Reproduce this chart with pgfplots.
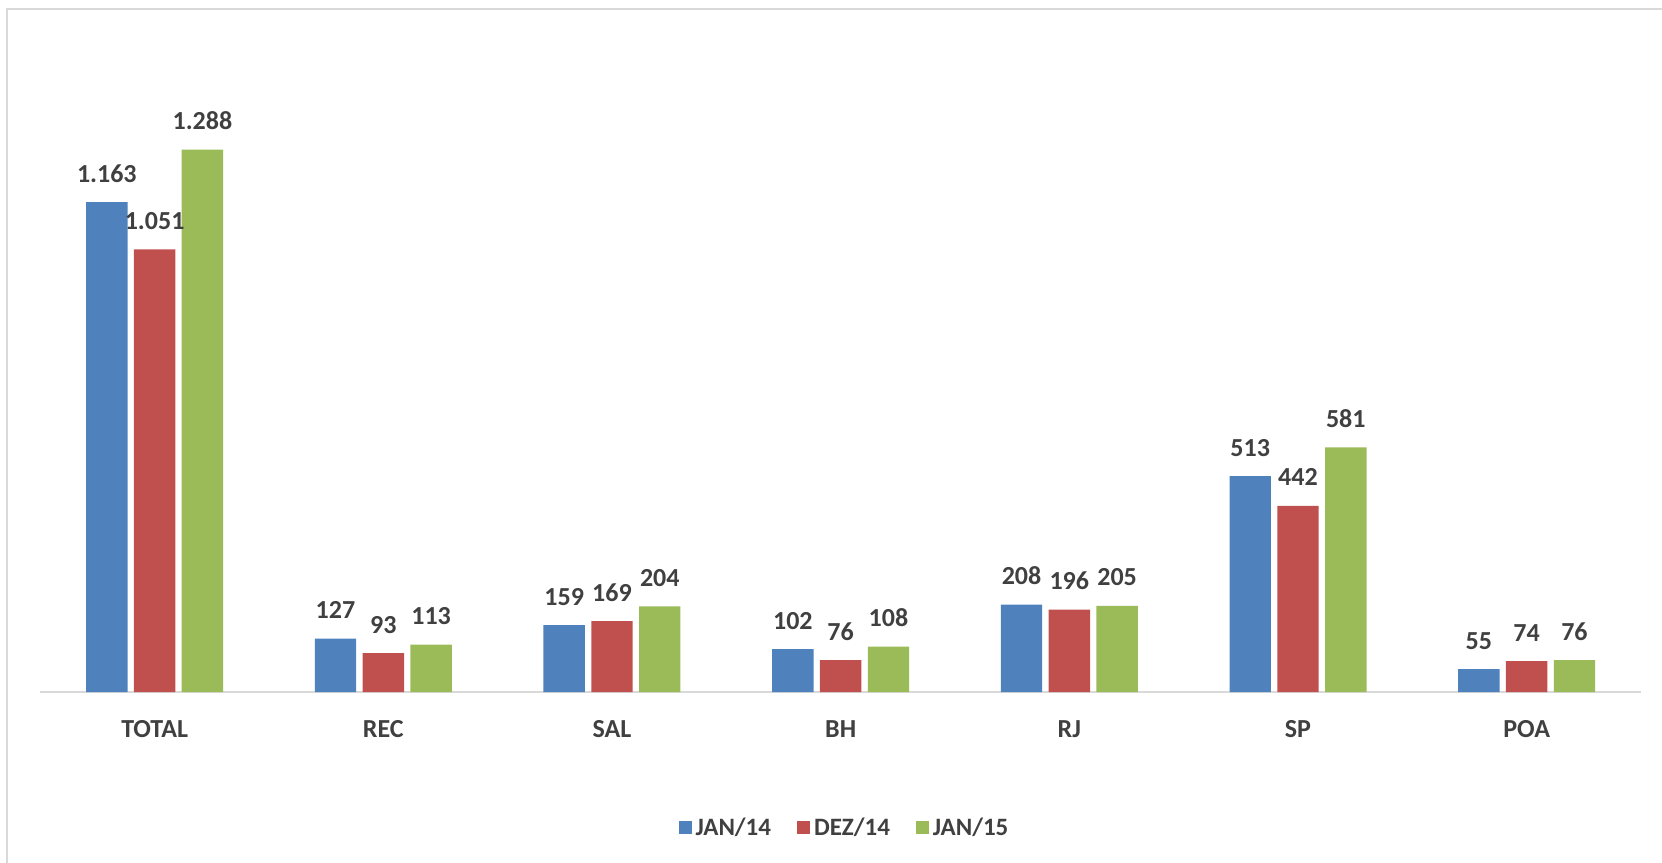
\documentclass[border=0pt]{standalone}
\usepackage{pgfplots}
\pgfplotsset{compat=1.18}
\usepackage{fontspec}
\setmainfont{Carlito}

\definecolor{cblue}{HTML}{4F81BD}
\definecolor{cred}{HTML}{C0504D}
\definecolor{cgreen}{HTML}{9BBB59}
\definecolor{txt}{HTML}{404040}
\definecolor{frame}{HTML}{D9D9D9}

\begin{document}
\begin{tikzpicture}
\draw[frame, line width=1pt] (3.65pt,-10pt) -- (3.65pt,426.85pt) -- (900pt,426.85pt);
\begin{axis}[
    at={(20.15pt,85.4pt)}, anchor=south west,
    scale only axis,
    width=800.35pt, height=294.9pt,
    ybar=3.2pt, bar width=20.7pt,
    xmin=-0.5, xmax=6.5,
    ymin=0, ymax=1400,
    enlarge y limits=false,
    axis x line*=bottom,
    hide y axis,
    x axis line style={-, draw=frame, line width=1pt},
    xtick=data,
    xticklabels={TOTAL,REC,SAL,BH,RJ,SP,POA},
    xtick style={draw=none},
    xticklabel style={font=\fontsize{13}{15}\selectfont\bfseries, text=txt, anchor=base, yshift=-18.4pt},
    /pgf/number format/assume math mode=true,
    /pgf/number format/1000 sep={.},
    nodes near coords,
    every node near coord/.append style={font=\fontsize{13}{15}\selectfont\bfseries, text=txt, anchor=base, yshift=10pt, inner sep=0pt},
    legend columns=3,
    legend style={at={(0.503,-0.23)}, anchor=center, draw=none, fill=none,
        font=\fontsize{12.5}{14}\selectfont\bfseries, text=txt,
        /tikz/every even column/.append style={column sep=11pt}},
    legend image code/.code={\fill[#1] (-2.5pt,-3.25pt) rectangle (4pt,3.25pt);},
]
\addplot[draw=none, fill=cblue] coordinates {(0,1163) (1,127) (2,159) (3,102) (4,208) (5,513) (6,55)};
\addplot[draw=none, fill=cred] coordinates {(0,1051) (1,93) (2,169) (3,76) (4,196) (5,442) (6,74)};
\addplot[draw=none, fill=cgreen] coordinates {(0,1288) (1,113) (2,204) (3,108) (4,205) (5,581) (6,76)};
\legend{JAN/14, DEZ/14, JAN/15}
\end{axis}
\pgfresetboundingbox
\path[use as bounding box] (0,0) rectangle (831pt,431.5pt);
\end{tikzpicture}
\end{document}
